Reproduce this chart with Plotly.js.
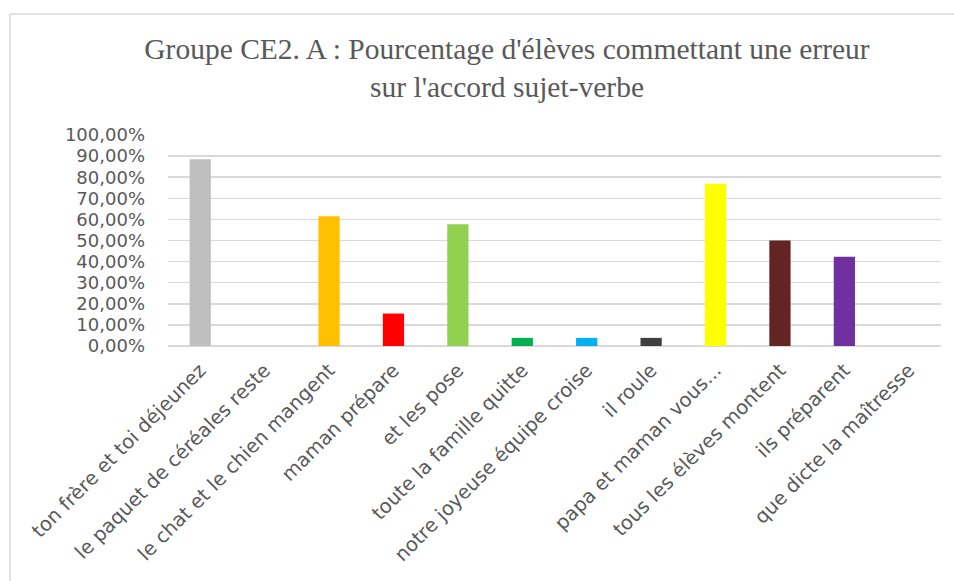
<!DOCTYPE html>
<html>
<head>
<meta charset="utf-8">
<script src="https://cdn.plot.ly/plotly-3.0.1.min.js"></script>
<style>
html,body{margin:0;padding:0;background:#fff;}
#chart{width:954px;height:581px;}
</style>
</head>
<body>
<div id="chart"></div>
<script>
var categories = [
  "ton frère et toi déjeunez",
  "le paquet de céréales reste",
  "le chat et le chien mangent",
  "maman prépare",
  "et les pose",
  "toute la famille quitte",
  "notre joyeuse équipe croise",
  "il roule",
  "papa et maman vous...",
  "tous les élèves montent",
  "ils préparent",
  "que dicte la maîtresse"
];
var values = [0.8846, 0, 0.6154, 0.1538, 0.5769, 0.0385, 0.0385, 0.0385, 0.7692, 0.50, 0.4231, 0];
var barColors = ["#BFBFBF", "#A5A5A5", "#FFC000", "#FF0000", "#92D050", "#00B050",
                 "#00B0F0", "#404040", "#FFFF00", "#632523", "#7030A0", "#4472C4"];
var yTickVals = [0, 0.1, 0.2, 0.3, 0.4, 0.5, 0.6, 0.7, 0.8, 0.9, 1.0];
var titleText = "Groupe CE2. A : Pourcentage d'élèves commettant une erreur<br>sur l'accord sujet-verbe";

var W = 954, H = 581;
var mL = 168, mR = 13, mT = 135, mB = 235;
var pw = W - mL - mR, ph = H - mT - mB;
function px2x(p){ return (p - mL) / pw; }
function py2y(p){ return (H - mB - p) / ph; }

var trace = {
  type: "bar",
  x: categories,
  y: values,
  marker: {color: barColors},
  hoverinfo: "x+y"
};

var layout = {
  width: W, height: H,
  margin: {l: mL, r: mR, t: mT, b: mB},
  paper_bgcolor: "#ffffff",
  plot_bgcolor: "#ffffff",
  separators: ", ",
  showlegend: false,
  bargap: 0.67,
  title: {
    text: titleText,
    font: {family: "Liberation Serif, Times New Roman, serif", size: 29.5, color: "#595959"},
    xref: "container", x: 507 / W, xanchor: "center",
    yref: "container", y: 1 - 59 / H, yanchor: "top"
  },
  xaxis: {
    type: "category",
    tickangle: -45,
    tickfont: {family: "DejaVu Sans, sans-serif", size: 19.5, color: "#595959"},
    showgrid: false,
    showline: false,
    zeroline: false,
    ticks: "",
    ticklabelstandoff: 8,
    automargin: false
  },
  yaxis: {
    range: [0, 1],
    tickvals: yTickVals,
    tickformat: ".2%",
    tickfont: {family: "DejaVu Sans, sans-serif", size: 18, color: "#595959"},
    showgrid: true,
    gridcolor: "#D9D9D9",
    gridwidth: 1.5,
    zeroline: true,
    zerolinecolor: "#D9D9D9",
    zerolinewidth: 1.5,
    showline: false,
    ticks: "",
    ticklabelstandoff: 22,
    automargin: false,
    fixedrange: true
  },
  shapes: [
    {type: "line", xref: "paper", yref: "paper",
     x0: px2x(10), x1: px2x(10), y0: py2y(14), y1: py2y(600),
     line: {color: "#D9D9D9", width: 1.5}},
    {type: "line", xref: "paper", yref: "paper",
     x0: px2x(10), x1: px2x(1000), y0: py2y(14), y1: py2y(14),
     line: {color: "#D9D9D9", width: 1.5}}
  ]
};

Plotly.newPlot("chart", [trace], layout, {displayModeBar: false, staticPlot: true});
</script>
</body>
</html>
